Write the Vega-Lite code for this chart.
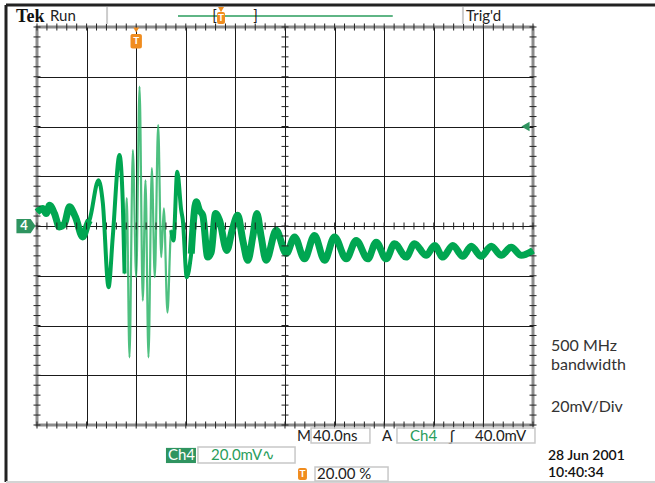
{
  "$schema": "https://vega.github.io/schema/vega-lite/v6.json",
  "width": 496,
  "height": 398,
  "autosize": {"type": "none"},
  "padding": {"left": 37, "top": 27, "right": 122, "bottom": 58},
  "background": "white",
  "config": {
    "view": {"stroke": "#8c8c8c", "strokeWidth": 3},
    "axis": {"labels": false, "ticks": false, "domain": false, "title": null, "gridColor": "#1a1a1a", "gridWidth": 1, "gridOpacity": 1, "zindex": 1},
    "text": {"font": "Lato", "baseline": "middle", "align": "left"}
  },
  "datasets": {
    "wave": [
      {"t": -80, "v": 5.6}, {"t": -75.3, "v": 7.0}, {"t": -72.6, "v": 5.0}, {"t": -69.9, "v": 8.3}, {"t": -65.9, "v": 5.0},
      {"t": -61.9, "v": -0.4}, {"t": -57.8, "v": 1.0}, {"t": -53.8, "v": 7.7}, {"t": -49.0, "v": 3.6}, {"t": -43.1, "v": -4.4},
      {"t": -39.0, "v": 1.0}, {"t": -37.7, "v": 2.3}, {"t": -30.4, "v": 18.4}, {"t": -26.9, "v": 9.2}, {"t": -22.3, "v": -24.6},
      {"t": -18.9, "v": -4.4}, {"t": -13.5, "v": 28.5}, {"t": -10.8, "v": 9.2}, {"t": -9.4, "v": -19.1}, {"t": -7.6, "v": 11.2},
      {"t": -5.4, "v": -52.8}, {"t": -2.7, "v": 30.5}, {"t": 0.0, "v": -20.6}, {"t": 2.7, "v": 56.0}, {"t": 5.3, "v": -30.0},
      {"t": 7.5, "v": 18.4}, {"t": 9.9, "v": -52.8}, {"t": 12.6, "v": 23.3}, {"t": 15.0, "v": -20.6}, {"t": 17.7, "v": 40.6},
      {"t": 20.2, "v": -12.5}, {"t": 22.3, "v": 7.1}, {"t": 25.2, "v": -34.8}, {"t": 28.2, "v": -1.7}, {"t": 30.1, "v": -5.8},
      {"t": 33.1, "v": 21.8}, {"t": 36.3, "v": 6.3}, {"t": 37.6, "v": 2.3}, {"t": 40.8, "v": -20.6}, {"t": 44.4, "v": -11.1},
      {"t": 48.4, "v": 9.7}, {"t": 51.0, "v": 6.3}, {"t": 53.7, "v": 4.3}, {"t": 57.7, "v": -12.5}, {"t": 60.5, "v": -10.5},
      {"t": 64.0, "v": 5.0}, {"t": 67.2, "v": 2.3}, {"t": 73.1, "v": -9.8}, {"t": 77.4, "v": -1.7}, {"t": 81.9, "v": 4.3},
      {"t": 86.0, "v": -5.8}, {"t": 90.0, "v": -13.8}, {"t": 94.0, "v": -4.4}, {"t": 97.3, "v": 5.0}, {"t": 100.8, "v": -4.4},
      {"t": 104.8, "v": -13.8}, {"t": 112.9, "v": -1.7}, {"t": 121.0, "v": -11.1}, {"t": 127.7, "v": -4.4}, {"t": 135.7, "v": -13.2},
      {"t": 143.8, "v": -3.8}, {"t": 151.9, "v": -13.8}, {"t": 159.9, "v": -4.4}, {"t": 169.4, "v": -13.2}, {"t": 177.4, "v": -5.8},
      {"t": 186.8, "v": -13.2}, {"t": 193.5, "v": -6.5}, {"t": 201.6, "v": -13.2}, {"t": 208.3, "v": -7.1}, {"t": 217.7, "v": -12.5},
      {"t": 224.4, "v": -7.1}, {"t": 233.9, "v": -11.8}, {"t": 240.6, "v": -7.8}, {"t": 247.3, "v": -12.5}, {"t": 255.3, "v": -7.8},
      {"t": 263.4, "v": -12.2}, {"t": 270.2, "v": -8.1}, {"t": 278.2, "v": -12.2}, {"t": 286.3, "v": -8.1}, {"t": 294.4, "v": -11.8},
      {"t": 302.4, "v": -8.5}, {"t": 310.5, "v": -11.8}, {"t": 320, "v": -9.8}
    ],
    "xt": [
      {"t": -80, "v": 0}, {"t": -72, "v": 0}, {"t": -64, "v": 0}, {"t": -56, "v": 0}, {"t": -48, "v": 0}, {"t": -40, "v": 0}, {"t": -32, "v": 0}, {"t": -24, "v": 0}, {"t": -16, "v": 0}, {"t": -8, "v": 0},
      {"t": 0, "v": 0}, {"t": 8, "v": 0}, {"t": 16, "v": 0}, {"t": 24, "v": 0}, {"t": 32, "v": 0}, {"t": 40, "v": 0}, {"t": 48, "v": 0}, {"t": 56, "v": 0}, {"t": 64, "v": 0}, {"t": 72, "v": 0},
      {"t": 80, "v": 0}, {"t": 88, "v": 0}, {"t": 96, "v": 0}, {"t": 104, "v": 0}, {"t": 112, "v": 0}, {"t": 120, "v": 0}, {"t": 128, "v": 0}, {"t": 136, "v": 0}, {"t": 144, "v": 0}, {"t": 152, "v": 0},
      {"t": 160, "v": 0}, {"t": 168, "v": 0}, {"t": 176, "v": 0}, {"t": 184, "v": 0}, {"t": 192, "v": 0}, {"t": 200, "v": 0}, {"t": 208, "v": 0}, {"t": 216, "v": 0}, {"t": 224, "v": 0}, {"t": 232, "v": 0},
      {"t": 240, "v": 0}, {"t": 248, "v": 0}, {"t": 256, "v": 0}, {"t": 264, "v": 0}, {"t": 272, "v": 0}, {"t": 280, "v": 0}, {"t": 288, "v": 0}, {"t": 296, "v": 0}, {"t": 304, "v": 0}, {"t": 312, "v": 0}, {"t": 320, "v": 0},
      {"t": -80, "v": 80}, {"t": -72, "v": 80}, {"t": -64, "v": 80}, {"t": -56, "v": 80}, {"t": -48, "v": 80}, {"t": -40, "v": 80}, {"t": -32, "v": 80}, {"t": -24, "v": 80}, {"t": -16, "v": 80}, {"t": -8, "v": 80},
      {"t": 0, "v": 80}, {"t": 8, "v": 80}, {"t": 16, "v": 80}, {"t": 24, "v": 80}, {"t": 32, "v": 80}, {"t": 40, "v": 80}, {"t": 48, "v": 80}, {"t": 56, "v": 80}, {"t": 64, "v": 80}, {"t": 72, "v": 80},
      {"t": 80, "v": 80}, {"t": 88, "v": 80}, {"t": 96, "v": 80}, {"t": 104, "v": 80}, {"t": 112, "v": 80}, {"t": 120, "v": 80}, {"t": 128, "v": 80}, {"t": 136, "v": 80}, {"t": 144, "v": 80}, {"t": 152, "v": 80},
      {"t": 160, "v": 80}, {"t": 168, "v": 80}, {"t": 176, "v": 80}, {"t": 184, "v": 80}, {"t": 192, "v": 80}, {"t": 200, "v": 80}, {"t": 208, "v": 80}, {"t": 216, "v": 80}, {"t": 224, "v": 80}, {"t": 232, "v": 80},
      {"t": 240, "v": 80}, {"t": 248, "v": 80}, {"t": 256, "v": 80}, {"t": 264, "v": 80}, {"t": 272, "v": 80}, {"t": 280, "v": 80}, {"t": 288, "v": 80}, {"t": 296, "v": 80}, {"t": 304, "v": 80}, {"t": 312, "v": 80}, {"t": 320, "v": 80},
      {"t": -80, "v": -80}, {"t": -72, "v": -80}, {"t": -64, "v": -80}, {"t": -56, "v": -80}, {"t": -48, "v": -80}, {"t": -40, "v": -80}, {"t": -32, "v": -80}, {"t": -24, "v": -80}, {"t": -16, "v": -80}, {"t": -8, "v": -80},
      {"t": 0, "v": -80}, {"t": 8, "v": -80}, {"t": 16, "v": -80}, {"t": 24, "v": -80}, {"t": 32, "v": -80}, {"t": 40, "v": -80}, {"t": 48, "v": -80}, {"t": 56, "v": -80}, {"t": 64, "v": -80}, {"t": 72, "v": -80},
      {"t": 80, "v": -80}, {"t": 88, "v": -80}, {"t": 96, "v": -80}, {"t": 104, "v": -80}, {"t": 112, "v": -80}, {"t": 120, "v": -80}, {"t": 128, "v": -80}, {"t": 136, "v": -80}, {"t": 144, "v": -80}, {"t": 152, "v": -80},
      {"t": 160, "v": -80}, {"t": 168, "v": -80}, {"t": 176, "v": -80}, {"t": 184, "v": -80}, {"t": 192, "v": -80}, {"t": 200, "v": -80}, {"t": 208, "v": -80}, {"t": 216, "v": -80}, {"t": 224, "v": -80}, {"t": 232, "v": -80},
      {"t": 240, "v": -80}, {"t": 248, "v": -80}, {"t": 256, "v": -80}, {"t": 264, "v": -80}, {"t": 272, "v": -80}, {"t": 280, "v": -80}, {"t": 288, "v": -80}, {"t": 296, "v": -80}, {"t": 304, "v": -80}, {"t": 312, "v": -80}, {"t": 320, "v": -80}
    ],
    "yt": [
      {"t": 120, "v": -80}, {"t": 120, "v": -76}, {"t": 120, "v": -72}, {"t": 120, "v": -68}, {"t": 120, "v": -64}, {"t": 120, "v": -60}, {"t": 120, "v": -56}, {"t": 120, "v": -52}, {"t": 120, "v": -48}, {"t": 120, "v": -44},
      {"t": 120, "v": -40}, {"t": 120, "v": -36}, {"t": 120, "v": -32}, {"t": 120, "v": -28}, {"t": 120, "v": -24}, {"t": 120, "v": -20}, {"t": 120, "v": -16}, {"t": 120, "v": -12}, {"t": 120, "v": -8}, {"t": 120, "v": -4},
      {"t": 120, "v": 0}, {"t": 120, "v": 4}, {"t": 120, "v": 8}, {"t": 120, "v": 12}, {"t": 120, "v": 16}, {"t": 120, "v": 20}, {"t": 120, "v": 24}, {"t": 120, "v": 28}, {"t": 120, "v": 32}, {"t": 120, "v": 36},
      {"t": 120, "v": 40}, {"t": 120, "v": 44}, {"t": 120, "v": 48}, {"t": 120, "v": 52}, {"t": 120, "v": 56}, {"t": 120, "v": 60}, {"t": 120, "v": 64}, {"t": 120, "v": 68}, {"t": 120, "v": 72}, {"t": 120, "v": 76}, {"t": 120, "v": 80},
      {"t": -80, "v": -80}, {"t": -80, "v": -76}, {"t": -80, "v": -72}, {"t": -80, "v": -68}, {"t": -80, "v": -64}, {"t": -80, "v": -60}, {"t": -80, "v": -56}, {"t": -80, "v": -52}, {"t": -80, "v": -48}, {"t": -80, "v": -44},
      {"t": -80, "v": -40}, {"t": -80, "v": -36}, {"t": -80, "v": -32}, {"t": -80, "v": -28}, {"t": -80, "v": -24}, {"t": -80, "v": -20}, {"t": -80, "v": -16}, {"t": -80, "v": -12}, {"t": -80, "v": -8}, {"t": -80, "v": -4},
      {"t": -80, "v": 0}, {"t": -80, "v": 4}, {"t": -80, "v": 8}, {"t": -80, "v": 12}, {"t": -80, "v": 16}, {"t": -80, "v": 20}, {"t": -80, "v": 24}, {"t": -80, "v": 28}, {"t": -80, "v": 32}, {"t": -80, "v": 36},
      {"t": -80, "v": 40}, {"t": -80, "v": 44}, {"t": -80, "v": 48}, {"t": -80, "v": 52}, {"t": -80, "v": 56}, {"t": -80, "v": 60}, {"t": -80, "v": 64}, {"t": -80, "v": 68}, {"t": -80, "v": 72}, {"t": -80, "v": 76}, {"t": -80, "v": 80},
      {"t": 320, "v": -80}, {"t": 320, "v": -76}, {"t": 320, "v": -72}, {"t": 320, "v": -68}, {"t": 320, "v": -64}, {"t": 320, "v": -60}, {"t": 320, "v": -56}, {"t": 320, "v": -52}, {"t": 320, "v": -48}, {"t": 320, "v": -44},
      {"t": 320, "v": -40}, {"t": 320, "v": -36}, {"t": 320, "v": -32}, {"t": 320, "v": -28}, {"t": 320, "v": -24}, {"t": 320, "v": -20}, {"t": 320, "v": -16}, {"t": 320, "v": -12}, {"t": 320, "v": -8}, {"t": 320, "v": -4},
      {"t": 320, "v": 0}, {"t": 320, "v": 4}, {"t": 320, "v": 8}, {"t": 320, "v": 12}, {"t": 320, "v": 16}, {"t": 320, "v": 20}, {"t": 320, "v": 24}, {"t": 320, "v": 28}, {"t": 320, "v": 32}, {"t": 320, "v": 36},
      {"t": 320, "v": 40}, {"t": 320, "v": 44}, {"t": 320, "v": 48}, {"t": 320, "v": 52}, {"t": 320, "v": 56}, {"t": 320, "v": 60}, {"t": 320, "v": 64}, {"t": 320, "v": 68}, {"t": 320, "v": 72}, {"t": 320, "v": 76}, {"t": 320, "v": 80}
    ]
  },
  "encoding": {
    "x": {"field": "t", "type": "quantitative", "scale": {"domain": [-80, 320], "nice": false, "zero": false},
          "axis": {"values": [-40, 0, 40, 80, 120, 160, 200, 240, 280], "grid": true}},
    "y": {"field": "v", "type": "quantitative", "scale": {"domain": [-80, 80], "nice": false, "zero": false},
          "axis": {"values": [-60, -40, -20, 0, 20, 40, 60], "grid": true}}
  },
  "layer": [
    {"data": {"name": "wave"}, "mark": {"type": "line", "color": "#2fb56a", "strokeWidth": 2.2, "opacity": 0.85, "interpolate": "monotone", "strokeJoin": "round"}},
    {"data": {"name": "wave"}, "transform": [{"filter": "datum.t <= -9.4"}],
     "mark": {"type": "line", "color": "#00a651", "strokeWidth": 4, "opacity": 1, "interpolate": "monotone", "strokeJoin": "round"}},
    {"data": {"name": "wave"}, "transform": [{"filter": "datum.t >= 28.2"}],
     "mark": {"type": "line", "color": "#00a651", "strokeWidth": 4, "opacity": 1, "interpolate": "monotone", "strokeJoin": "round"}},
    {"data": {"name": "wave"}, "transform": [{"filter": "datum.t <= -37.7"}],
     "mark": {"type": "line", "color": "#00a651", "strokeWidth": 7, "opacity": 1, "interpolate": "monotone", "strokeJoin": "round"}},
    {"data": {"name": "wave"}, "transform": [{"filter": "datum.t >= 44.4"}],
     "mark": {"type": "line", "color": "#00a651", "strokeWidth": 7, "opacity": 1, "interpolate": "monotone", "strokeJoin": "round"}},
    {"data": {"name": "xt"}, "mark": {"type": "tick", "orient": "vertical", "size": 7, "thickness": 1, "color": "#222", "opacity": 1}},
    {"data": {"name": "yt"}, "mark": {"type": "tick", "orient": "horizontal", "size": 7, "thickness": 1, "color": "#222", "opacity": 1}},
    {"data": {"values": [{"t": -105, "v": 88.8, "v2": -102.9}]},
     "mark": {"type": "rule", "color": "#222", "strokeWidth": 3}, "encoding": {"y2": {"field": "v2"}}},
    {"data": {"values": [{"t": -23.5, "v": 88.0, "v2": 81.2}, {"t": 263.5, "v": 88.0, "v2": 81.2}]},
     "mark": {"type": "rule", "color": "#cccccc", "strokeWidth": 2}, "encoding": {"y2": {"field": "v2"}}},
    {"data": {"values": [{"t": -105, "t2": 418.4, "v": 88.8}]},
     "mark": {"type": "rule", "color": "#222", "strokeWidth": 3}, "encoding": {"x2": {"field": "t2"}}},
    {"data": {"values": [{"t": -105, "t2": 418.4, "v": -102.9}]},
     "mark": {"type": "rule", "color": "#d4d4d4", "strokeWidth": 2}, "encoding": {"x2": {"field": "t2"}}},
    {"data": {"values": [{"t": 33.7, "t2": 206.9, "v": 84.4}]},
     "mark": {"type": "rule", "color": "#2a9d5c", "strokeWidth": 1.5}, "encoding": {"x2": {"field": "t2"}}},
    {"data": {"values": [{"t": 63.1, "v": 84.4, "label": "["}, {"t": 96.2, "v": 84.4, "label": "]"}]},
     "mark": {"type": "text", "fontSize": 15, "color": "#222", "align": "center"}, "encoding": {"text": {"field": "label"}}},
    {"data": {"values": [{"t": 65.2, "t2": 71.6, "v": 86.0, "v2": 81.2}, {"t": -4.6, "t2": 4.6, "v": 77.2, "v2": 71.4}, {"t": 130.5, "t2": 137.7, "v": -97.3, "v2": -102.1}]},
     "mark": {"type": "rect", "color": "#f08c1e", "cornerRadius": 2}, "encoding": {"x2": {"field": "t2"}, "y2": {"field": "v2"}}},
    {"data": {"values": [{"t": 68.4, "v": 87.0}, {"t": 0, "v": 78.8}]},
     "mark": {"type": "point", "shape": "triangle-down", "filled": true, "color": "#f08c1e", "size": 35, "opacity": 1}},
    {"data": {"values": [{"t": 68.4, "v": 83.6, "label": "T"}, {"t": 0, "v": 74.3, "label": "T"}, {"t": 134.1, "v": -99.7, "label": "T"}]},
     "mark": {"type": "text", "fontSize": 10, "fontWeight": "bold", "color": "white", "align": "center"}, "encoding": {"text": {"field": "label"}}},
    {"data": {"values": [{"t": -88.9, "v": 0}]},
     "mark": {"type": "point", "shape": "M-1,-0.75L0.5,-0.75L1,0L0.5,0.75L-1,0.75Z", "filled": true, "color": "#2f9460", "size": 361, "opacity": 1}},
    {"data": {"values": [{"t": -90.5, "v": 0, "label": "4"}]},
     "mark": {"type": "text", "fontSize": 13, "fontWeight": "bold", "color": "white", "align": "center"}, "encoding": {"text": {"field": "label"}}},
    {"data": {"values": [{"t": 313.9, "v": 40}]},
     "mark": {"type": "point", "shape": "triangle-left", "filled": true, "color": "#2f9460", "size": 90, "opacity": 1}},
    {"data": {"values": [{"t": -96.9, "v": 84.2, "label": "Tek"}]},
     "mark": {"type": "text", "font": "Liberation Serif", "fontSize": 18, "fontWeight": "bold", "color": "#111", "letterSpacing": -0.5}, "encoding": {"text": {"field": "label"}}},
    {"data": {"values": [
      {"t": -69.5, "v": 84.4, "label": "Run"}, {"t": 266.0, "v": 84.4, "label": "Trig'd"},
      {"t": 129.7, "v": -84.4, "label": "M"}, {"t": 142.6, "v": -84.4, "label": "40.0ns"}, {"t": 198.2, "v": -84.4, "label": "A"},
      {"t": 253.1, "v": -84.4, "label": "ʃ"}, {"t": 273.2, "v": -84.4, "label": "40.0mV"}, {"t": 145.8, "v": -99.7, "label": "20.00 %"}]},
     "mark": {"type": "text", "fontSize": 15, "color": "#222"}, "encoding": {"text": {"field": "label"}}},
    {"data": {"values": [{"t": 334.5, "v": -48.1, "label": "500 MHz"}, {"t": 334.5, "v": -55.9, "label": "bandwidth"}, {"t": 334.5, "v": -72.6, "label": "20mV/Div"}]},
     "mark": {"type": "text", "fontSize": 16, "color": "#333"}, "encoding": {"text": {"field": "label"}}},
    {"data": {"values": [{"t": 332.1, "v": -92.3, "label": "28 Jun  2001"}, {"t": 332.1, "v": -99.3, "label": "10:40:34"}]},
     "mark": {"type": "text", "fontSize": 14, "fontWeight": 600, "color": "#111", "letterSpacing": 1.2}, "encoding": {"text": {"field": "label"}}},
    {"data": {"values": [{"t": 141.0, "t2": 188.5, "v": -81.2, "v2": -87.2}, {"t": 210.3, "t2": 321.6, "v": -81.2, "v2": -87.2}, {"t": 49.8, "t2": 128.1, "v": -88.8, "v2": -95.3}, {"t": 144.2, "t2": 203.1, "v": -96.9, "v2": -102.5}]},
     "mark": {"type": "rect", "fill": null, "filled": false, "stroke": "#c8c8c8", "strokeWidth": 1.5}, "encoding": {"x2": {"field": "t2"}, "y2": {"field": "v2"}}},
    {"data": {"values": [{"t": 24.0, "t2": 48.2, "v": -89.2, "v2": -95.3}]},
     "mark": {"type": "rect", "color": "#2f9460"}, "encoding": {"x2": {"field": "t2"}, "y2": {"field": "v2"}}},
    {"data": {"values": [{"t": 25.6, "v": -92.1, "label": "Ch4"}]},
     "mark": {"type": "text", "fontSize": 15, "color": "white"}, "encoding": {"text": {"field": "label"}}},
    {"data": {"values": [{"t": 220.8, "v": -84.4, "label": "Ch4"}, {"t": 60.3, "v": -92.1, "label": "20.0mV∿"}]},
     "mark": {"type": "text", "fontSize": 15, "color": "#2a9d5c"}, "encoding": {"text": {"field": "label"}}}
  ]
}
